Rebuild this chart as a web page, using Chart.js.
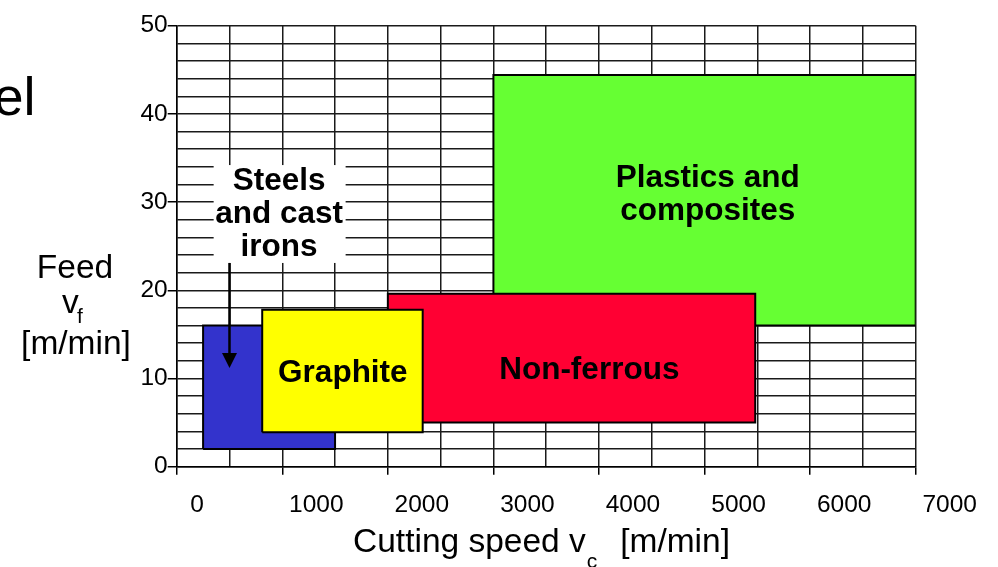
<!DOCTYPE html>
<html>
<head>
<meta charset="utf-8">
<script src="https://cdn.jsdelivr.net/npm/chart.js@4/dist/chart.umd.min.js"></script>
<style>
html,body{margin:0;padding:0;background:#fff;}
#wrap{width:998px;height:567px;position:relative;}
</style>
</head>
<body>
<div id="wrap"><canvas id="c" width="998" height="567"></canvas></div>
<script>
// ---- data ----
const materials = ['Graphite', 'Steels and cast irons', 'Non-ferrous', 'Plastics and composites'];
const speedMin = [810, 250, 2000, 3000];     // m/min
const speedMax = [2330, 1500, 5480, 7000];
const feedMin  = [3.9, 2, 5, 16];            // m/min
const feedMax  = [17.8, 16, 19.6, 44.4];
const fillColors = ['#FFFF00', '#3333CC', '#FF0033', '#66FF33'];
const xTickLabels = [0, 1000, 2000, 3000, 4000, 5000, 6000, 7000];
const yTickLabels = [0, 10, 20, 30, 40, 50];

// text annotations (data coords of centre x and first baseline y)
const labelLines = [['Graphite'], ['Steels', 'and cast', 'irons'], ['Non-ferrous'], ['Plastics and', 'composites']];
const labelX = [1574, 970, 3908, 5030];
const labelY = [9.6, 31.4, 10.0, 31.75];
const steelsBox = {x0: 350, x1: 1600, y0: 23.1, y1: 34.2};
const arrow = {x: 500, yFrom: 23.1, yTo: 11.2};

const datasets = materials.map((m, i) => ({
  label: m,
  data: [
    {x: speedMin[i], y: feedMin[i]},
    {x: speedMax[i], y: feedMin[i]},
    {x: speedMax[i], y: feedMax[i]},
    {x: speedMin[i], y: feedMax[i]},
    {x: speedMin[i], y: feedMin[i]}
  ],
  backgroundColor: fillColors[i],
  borderColor: '#000',
  borderWidth: 2,
  borderJoinStyle: 'miter',
  pointRadius: 0,
  pointHoverRadius: 0,
  tension: 0,
  fill: 'shape',
  order: i
}));

const F = 'Arial, "Liberation Sans", Helvetica, sans-serif';

const annot = {
  id: 'annot',
  afterDatasetsDraw(chart) {
    const ctx = chart.ctx, xs = chart.scales.x, ys = chart.scales.y;
    ctx.save();
    // white label box
    const bx0 = xs.getPixelForValue(steelsBox.x0), bx1 = xs.getPixelForValue(steelsBox.x1);
    const by0 = ys.getPixelForValue(steelsBox.y1), by1 = ys.getPixelForValue(steelsBox.y0);
    ctx.fillStyle = '#fff';
    ctx.fillRect(bx0, by0, bx1 - bx0, by1 - by0);
    // arrow
    const ax = xs.getPixelForValue(arrow.x);
    const ay0 = ys.getPixelForValue(arrow.yFrom), ay1 = ys.getPixelForValue(arrow.yTo);
    ctx.strokeStyle = '#000'; ctx.lineWidth = 2.5;
    ctx.beginPath(); ctx.moveTo(ax, ay0); ctx.lineTo(ax, ay1 - 14); ctx.stroke();
    ctx.fillStyle = '#000';
    ctx.beginPath(); ctx.moveTo(ax - 7.5, ay1 - 15); ctx.lineTo(ax + 7.5, ay1 - 15); ctx.lineTo(ax, ay1); ctx.closePath(); ctx.fill();
    // labels
    ctx.font = 'bold 31.5px ' + F;
    ctx.textAlign = 'center'; ctx.textBaseline = 'alphabetic';
    labelLines.forEach((lines, i) => {
      const px = xs.getPixelForValue(labelX[i]);
      const py = ys.getPixelForValue(labelY[i]);
      lines.forEach((t, j) => ctx.fillText(t, px, py + j * 33.3));
    });
    ctx.restore();
  },
  afterDraw(chart) {
    const ctx = chart.ctx;
    ctx.save();
    ctx.fillStyle = '#000';
    ctx.textBaseline = 'alphabetic';
    // cropped heading fragment
    ctx.font = '54px ' + F; ctx.textAlign = 'left';
    ctx.fillText('el', -6.6, 115);
    // y title
    ctx.font = '33.5px ' + F; ctx.textAlign = 'center';
    ctx.fillText('Feed', 75, 278);
    ctx.fillText('[m/min]', 76, 354);
    ctx.textAlign = 'left';
    ctx.fillText('v', 62, 313);
    ctx.font = '21px ' + F;
    ctx.fillText('f', 77, 323);
    // x title
    ctx.font = '33.5px ' + F;
    const t1 = 'Cutting speed v';
    ctx.fillText(t1, 353, 552);
    const w1 = ctx.measureText(t1).width;
    ctx.font = '21px ' + F;
    ctx.fillText('c', 353 + w1 + 1, 568);
    ctx.font = '33.5px ' + F;
    ctx.textAlign = 'right';
    ctx.fillText('[m/min]', 730, 552);
    ctx.restore();
  }
};

new Chart(document.getElementById('c'), {
  type: 'line',
  data: {datasets},
  options: {
    responsive: false,
    devicePixelRatio: 1,
    animation: false,
    events: [],
    layout: {padding: {left: 0, right: 82.3, top: 25.7, bottom: 0}},
    plugins: {legend: {display: false}, tooltip: {enabled: false}},
    scales: {
      x: {
        type: 'linear', min: 0, max: 7000,
        afterFit: s => { s.height = 100.3; },
        border: {display: true, color: '#000', width: 1.5},
        grid: {
          color: '#1a1a1a', lineWidth: 1.5, tickLength: 8,
          tickColor: c => (xTickLabels.includes(c.tick.value) ? '#000' : 'rgba(0,0,0,0)'),
          tickWidth: 1.5
        },
        ticks: {
          stepSize: 500, autoSkip: false, maxRotation: 0, minRotation: 0,
          labelOffset: 34, padding: 16, color: '#000',
          font: {family: F, size: 24.5},
          callback: v => (xTickLabels.includes(v) ? (v === 0 ? '0    ' : String(v)) : '')
        }
      },
      y: {
        type: 'linear', min: 0, max: 50,
        afterFit: s => { s.width = 176.7; },
        border: {display: true, color: '#000', width: 1.5},
        grid: {
          color: '#1a1a1a', lineWidth: 1.5, tickLength: 9,
          tickColor: c => (yTickLabels.includes(c.tick.value) ? '#000' : 'rgba(0,0,0,0)'),
          tickWidth: 1.5
        },
        ticks: {
          stepSize: 2, autoSkip: false, padding: 0, color: '#000',
          font: {family: F, size: 24.5},
          callback: v => (yTickLabels.includes(v) ? String(v) : '')
        }
      }
    }
  },
  plugins: [annot]
});
</script>
</body>
</html>
